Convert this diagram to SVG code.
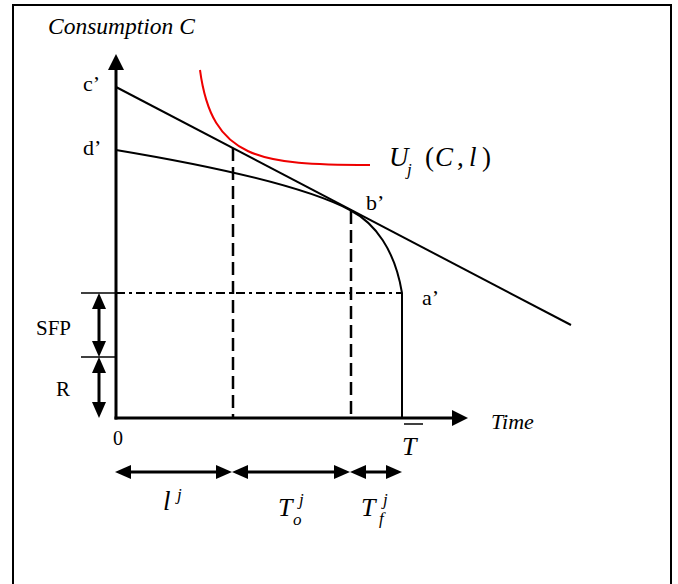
<svg xmlns="http://www.w3.org/2000/svg" width="678" height="584" viewBox="0 0 678 584" font-family="'Liberation Serif', 'DejaVu Serif', serif">
<style>
text{font-family:"Liberation Serif","DejaVu Serif",serif;fill:#000}
.it{font-style:italic}
.ax{stroke:#000;stroke-width:3;fill:none}
.ln{stroke:#000;stroke-width:2;fill:none}
.dash{stroke:#000;stroke-width:2.5;fill:none;stroke-dasharray:13,6}
.dd{stroke:#000;stroke-width:2;fill:none;stroke-dasharray:9,4,3,4}
.dbl{stroke:#000;stroke-width:3;fill:none;marker-start:url(#ah);marker-end:url(#ah)}
</style>
<defs>
<marker id="ah" viewBox="0 -7 16 14" refX="0" refY="0" markerWidth="16" markerHeight="14" markerUnits="userSpaceOnUse" orient="auto-start-reverse">
<path d="M0,-7 L16,0 L0,7 z" fill="#000"/>
</marker>
<marker id="ahBig" viewBox="0 -8 16 16" refX="0" refY="0" markerWidth="16" markerHeight="16" markerUnits="userSpaceOnUse" orient="auto">
<path d="M0,-8 L16,0 L0,8 z" fill="#000"/>
</marker>
</defs>
<rect x="13" y="5" width="658" height="600" fill="#fff" stroke="#000" stroke-width="2"/>

<g id="axes">
<path class="ax" d="M116,419.5 L116,70" marker-end="url(#ahBig)"/>
<path class="ax" d="M114.5,418 L452,418" marker-end="url(#ahBig)"/>
<text class="it" x="48" y="34" font-size="23.5">Consumption C</text>
<text class="it" x="491" y="429" font-size="22">Time</text>
<text x="113" y="445" font-size="20">0</text>
<g id="tbar">
<text class="it" x="402" y="455" font-size="26">T</text>
<line x1="404" y1="424" x2="423" y2="424" stroke="#000" stroke-width="1.5"/>
</g>
</g>

<g id="connectors">
<line class="ln" x1="116" y1="87" x2="571" y2="325"/>
<path class="ln" d="M116,150 C200,164 300,184 350,210 C375,223 395,250 402,293 L402,418"/>
<path d="M200,70 C212,160 260,165 370,165" fill="none" stroke="#e00" stroke-width="2"/>
<line class="dash" x1="233" y1="148" x2="233" y2="418"/>
<line class="dash" x1="351" y1="211" x2="351" y2="418"/>
<line x1="81" y1="293" x2="116" y2="293" stroke="#000" stroke-width="1.5"/>
<line x1="81" y1="357" x2="116" y2="357" stroke="#000" stroke-width="1.5"/>
<line class="dd" x1="116" y1="293" x2="402" y2="293"/>
<line class="dbl" x1="99" y1="309" x2="99" y2="341"/>
<line class="dbl" x1="99" y1="373" x2="99" y2="402"/>
<line class="dbl" x1="131" y1="472" x2="216" y2="472"/>
<line class="dbl" x1="248" y1="472" x2="334" y2="472"/>
<line class="dbl" x1="366" y1="472" x2="386" y2="472"/>
</g>

<g id="labels">
<text x="83" y="91" font-size="22">c’</text>
<text x="83" y="155" font-size="22">d’</text>
<text x="366" y="210" font-size="22">b’</text>
<text x="422" y="305" font-size="22">a’</text>
<text x="36" y="335" font-size="21">SFP</text>
<text x="56" y="396" font-size="21">R</text>
</g>

<g id="utility">
<text class="it" x="389" y="166" font-size="27">U</text>
<text class="it" x="407" y="175" font-size="17">j</text>
<text x="425" y="166" font-size="27">(</text>
<text class="it" x="435" y="166" font-size="27">C</text>
<text x="457" y="166" font-size="27">,</text>
<text class="it" x="469" y="166" font-size="27">l</text>
<text x="482" y="166" font-size="27">)</text>
</g>

<g id="intervals">
<text class="it" x="163" y="510" font-size="27">l</text>
<text class="it" x="177" y="500" font-size="17">j</text>
<text class="it" x="278" y="516" font-size="26">T</text>
<text class="it" x="299" y="505" font-size="17">j</text>
<text class="it" x="293" y="525" font-size="17">o</text>
<text class="it" x="361" y="516" font-size="26">T</text>
<text class="it" x="383" y="505" font-size="17">j</text>
<text class="it" x="379" y="524" font-size="17">f</text>
</g>
</svg>
